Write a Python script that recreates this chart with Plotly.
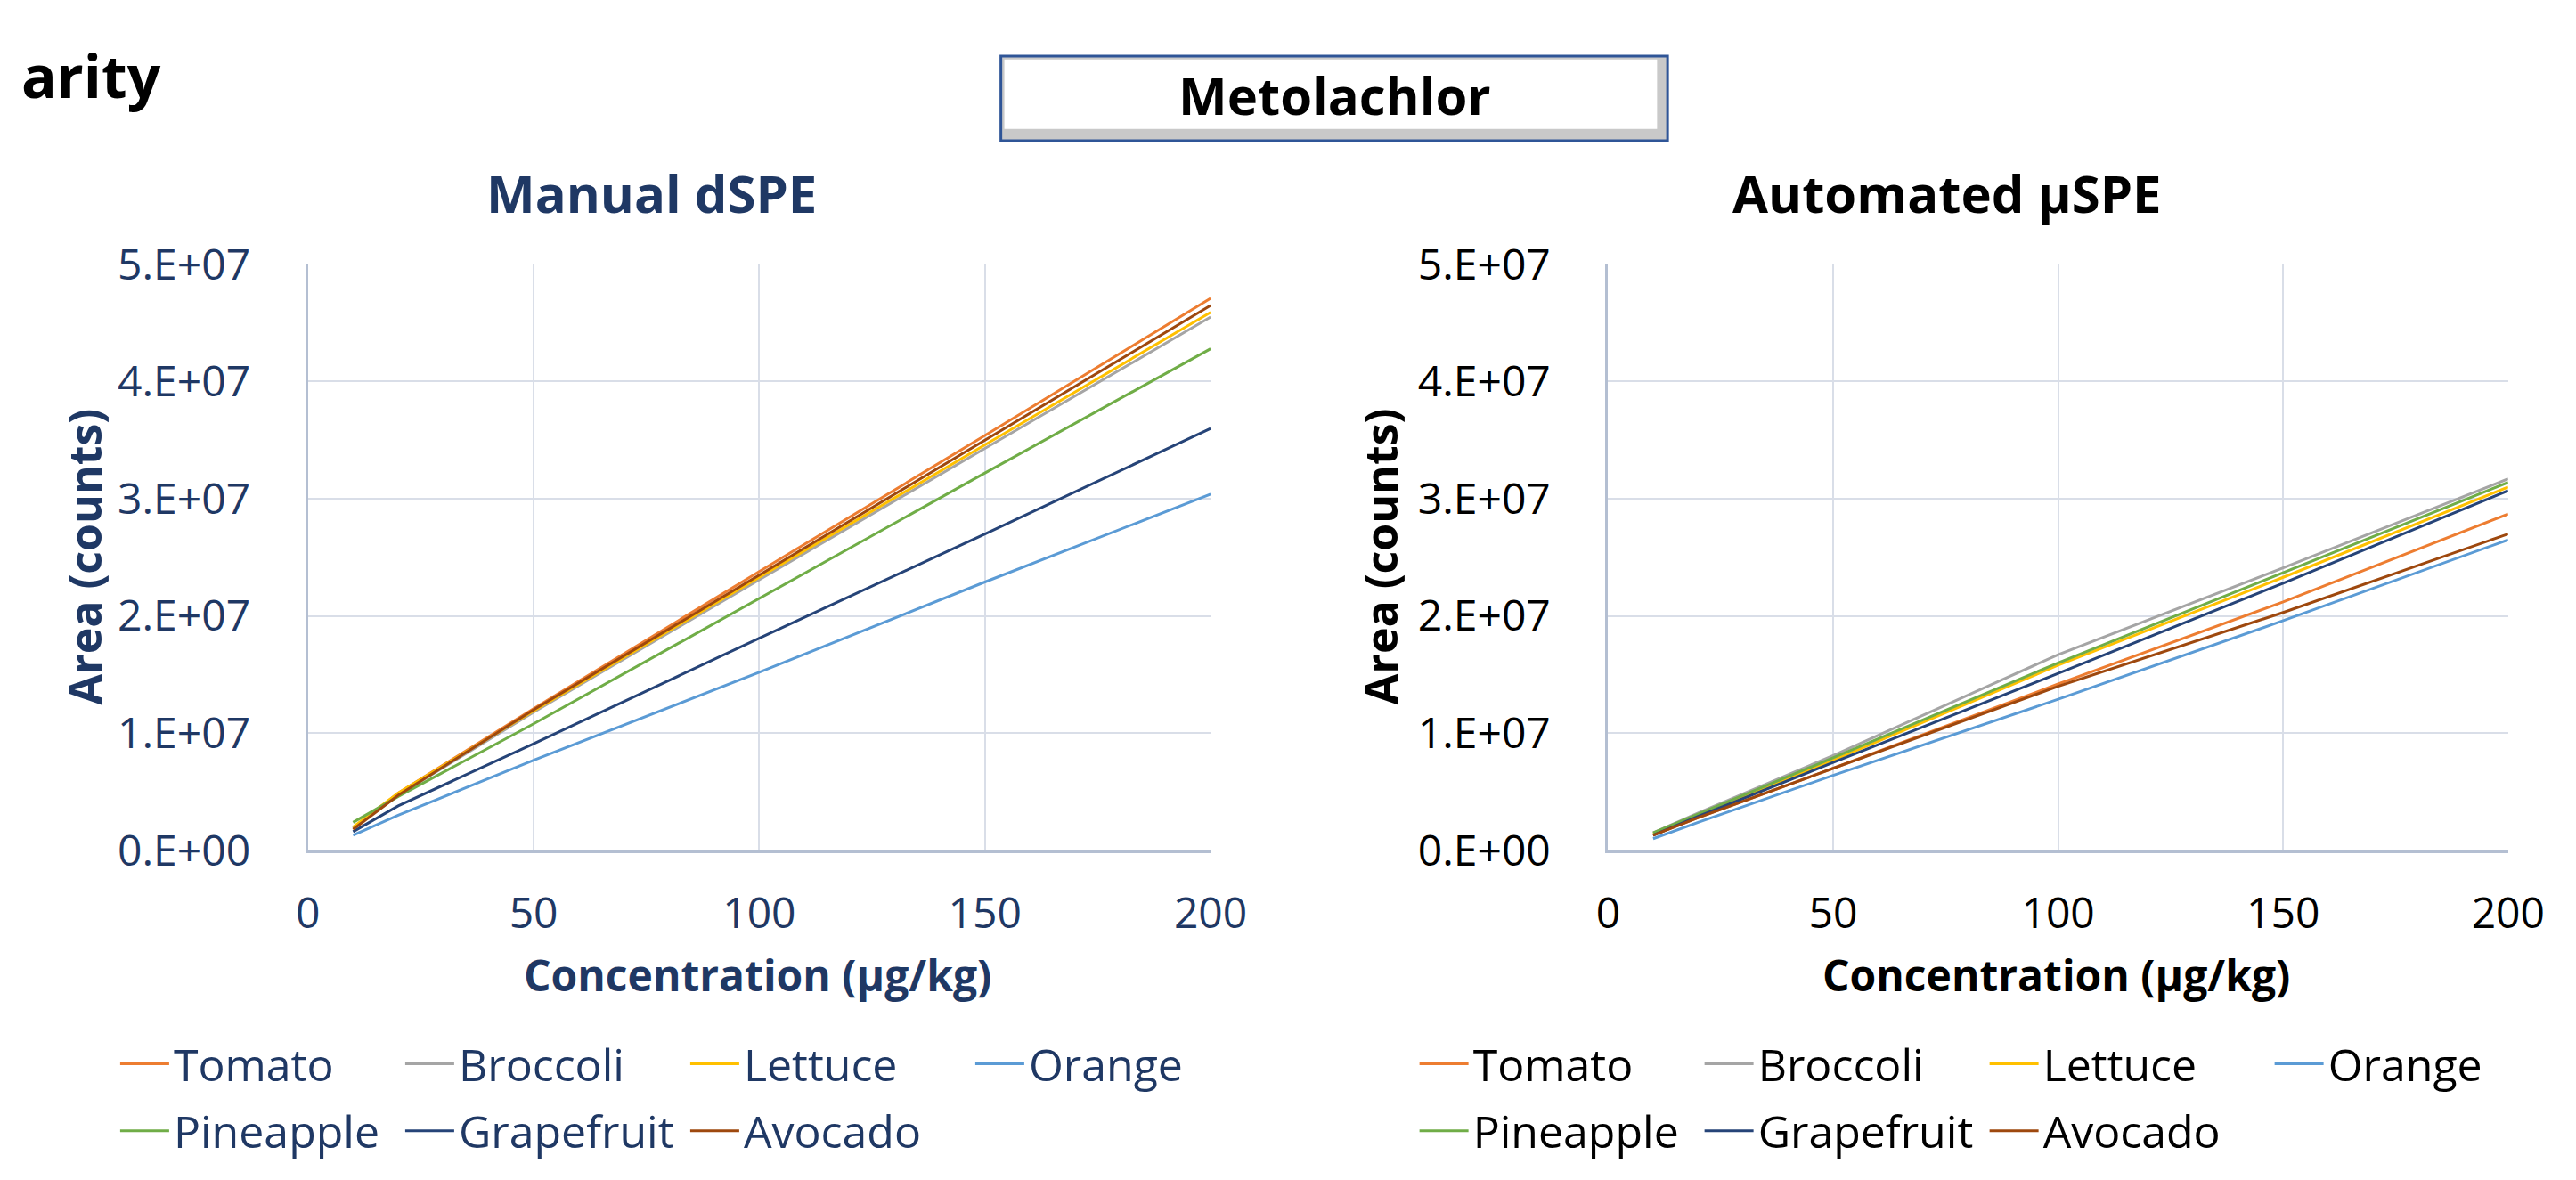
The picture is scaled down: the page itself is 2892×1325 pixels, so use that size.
import plotly.graph_objects as go

# ---------------- data ----------------
conc = [10, 20, 50, 100, 150, 200]
series_names = ["Tomato", "Broccoli", "Lettuce", "Orange", "Pineapple", "Grapefruit", "Avocado"]
series_colors = ["#ED7D31", "#A5A5A5", "#FFC000", "#5B9BD5", "#70AD47", "#264478", "#9E480E"]

manual_tomato = [1.9e6, 4.9e6, 1.21e7, 2.38e7, 3.54e7, 4.71e7]
manual_broccoli = [1.9e6, 4.7e6, 1.18e7, 2.31e7, 3.43e7, 4.55e7]
manual_lettuce = [2.0e6, 4.9e6, 1.19e7, 2.33e7, 3.46e7, 4.59e7]
manual_orange = [1.3e6, 3.0e6, 7.7e6, 1.52e7, 2.29e7, 3.04e7]
manual_pineapple = [2.4e6, 4.6e6, 1.08e7, 2.15e7, 3.22e7, 4.28e7]
manual_grapefruit = [1.6e6, 3.8e6, 9.1e6, 1.81e7, 2.70e7, 3.60e7]
manual_avocado = [1.8e6, 4.7e6, 1.20e7, 2.35e7, 3.50e7, 4.65e7]

auto_tomato = [1.3e6, 2.8e6, 7.0e6, 1.42e7, 2.12e7, 2.87e7]
auto_broccoli = [1.5e6, 3.2e6, 8.1e6, 1.67e7, 2.41e7, 3.17e7]
auto_lettuce = [1.4e6, 3.0e6, 7.7e6, 1.58e7, 2.33e7, 3.10e7]
auto_orange = [1.0e6, 2.4e6, 6.4e6, 1.29e7, 1.96e7, 2.65e7]
auto_pineapple = [1.5e6, 3.1e6, 7.9e6, 1.60e7, 2.37e7, 3.14e7]
auto_grapefruit = [1.3e6, 2.9e6, 7.5e6, 1.51e7, 2.28e7, 3.07e7]
auto_avocado = [1.3e6, 2.8e6, 7.0e6, 1.40e7, 2.03e7, 2.70e7]

x_ticks = [0, 50, 100, 150, 200]
y_ticks = [0, 1e7, 2e7, 3e7, 4e7, 5e7]
y_ticktext = ["0.E+00", "1.E+07", "2.E+07", "3.E+07", "4.E+07", "5.E+07"]

main_title = "Metolachlor"
clipped_title = "arity"
left_title = "Manual dSPE"
right_title = "Automated µSPE"
x_title = "Concentration (µg/kg)"
y_title = "Area (counts)"

manual = [manual_tomato, manual_broccoli, manual_lettuce, manual_orange,
          manual_pineapple, manual_grapefruit, manual_avocado]
auto = [auto_tomato, auto_broccoli, auto_lettuce, auto_orange,
        auto_pineapple, auto_grapefruit, auto_avocado]

# ---------------- figure ----------------
W, H = 2892, 1325
NAVY = "#1F3864"
BLACK = "#000000"
FONT = "Open Sans"

fig = go.Figure()

for i, name in enumerate(series_names):
    leg = "legend" if i < 4 else "legend2"
    fig.add_trace(go.Scatter(x=conc, y=manual[i], mode="lines", name=name,
                             line=dict(color=series_colors[i], width=3),
                             xaxis="x", yaxis="y", legend=leg))
for i, name in enumerate(series_names):
    leg = "legend3" if i < 4 else "legend4"
    fig.add_trace(go.Scatter(x=conc, y=auto[i], mode="lines", name=name,
                             line=dict(color=series_colors[i], width=3),
                             xaxis="x2", yaxis="y2", legend=leg))

def px_x(p):
    return p / W

def px_y(p):
    return 1 - p / H

plot_top, plot_bot = 268, 960
ydom = [px_y(plot_bot), px_y(plot_top)]

def xaxis_style(dom, color, anchor):
    return dict(domain=dom, range=[0, 200], tickvals=x_ticks, anchor=anchor,
                showgrid=True, gridcolor="#D9DEE8", gridwidth=2,
                showline=True, linecolor="#B4BFD2", linewidth=3,
                zeroline=False, ticks="", ticklabelstandoff=26,
                tickfont=dict(family=FONT, size=48, color=color), fixedrange=True)

def yaxis_style(color, anchor):
    return dict(domain=ydom, range=[0, 5e7], tickvals=y_ticks, ticktext=y_ticktext,
                anchor=anchor, showgrid=True, gridcolor="#D9DEE8", gridwidth=2,
                showline=True, linecolor="#B4BFD2", linewidth=3,
                zeroline=False, ticks="", ticklabelstandoff=52,
                tickfont=dict(family=FONT, size=48, color=color), fixedrange=True)

def legend_style(xp, yp, color):
    return dict(orientation="h", x=px_x(xp), y=px_y(yp), xanchor="left", yanchor="middle",
                font=dict(family=FONT, size=50, color=color), bgcolor="rgba(0,0,0,0)",
                entrywidth=250, entrywidthmode="pixels", itemwidth=55,
                tracegroupgap=0, borderwidth=0)

fig.update_layout(
    width=W, height=H,
    margin=dict(l=0, r=0, t=0, b=0),
    paper_bgcolor="white", plot_bgcolor="white",
    showlegend=True,
    xaxis=xaxis_style([px_x(330), px_x(1363)], NAVY, "y"),
    yaxis=yaxis_style(NAVY, "x"),
    xaxis2=xaxis_style([px_x(1818), px_x(2848)], BLACK, "y2"),
    yaxis2=yaxis_style(BLACK, "x2"),
    legend=legend_style(110, 1212, NAVY),
    legend2=legend_style(110, 1291, NAVY),
    legend3=legend_style(1597, 1212, BLACK),
    legend4=legend_style(1597, 1291, BLACK),
)

# title box with bevel look
fig.add_shape(type="rect", xref="paper", yref="paper",
              x0=px_x(1123), x1=px_x(1886), y0=px_y(122), y1=px_y(22),
              fillcolor="#C9C9C9", line=dict(color="#2F5597", width=3), layer="below")
fig.add_shape(type="rect", xref="paper", yref="paper",
              x0=px_x(1127), x1=px_x(1874), y0=px_y(108), y1=px_y(26),
              fillcolor="white", line=dict(width=0), layer="below")

annots = [
    dict(text="<b>%s</b>" % main_title, x=px_x(1505), y=px_y(68), size=58, color=BLACK),
    dict(text="<b>%s</b>" % clipped_title, x=px_x(0), y=px_y(44), size=66, color=BLACK, xanchor="left"),
    dict(text="<b>%s</b>" % left_title, x=px_x(723), y=px_y(184), size=58, color=NAVY),
    dict(text="<b>%s</b>" % right_title, x=px_x(2206), y=px_y(184), size=58, color=BLACK),
    dict(text="<b>%s</b>" % x_title, x=px_x(845), y=px_y(1107), size=48, color=NAVY),
    dict(text="<b>%s</b>" % x_title, x=px_x(2331), y=px_y(1107), size=48, color=BLACK),
    dict(text="<b>%s</b>" % y_title, x=px_x(74), y=px_y(613), size=50, color=NAVY, angle=-90),
    dict(text="<b>%s</b>" % y_title, x=px_x(1558), y=px_y(613), size=50, color=BLACK, angle=-90),
]
for a in annots:
    fig.add_annotation(text=a["text"], x=a["x"], y=a["y"], xref="paper", yref="paper",
                       showarrow=False, xanchor=a.get("xanchor", "center"), yanchor="middle",
                       textangle=a.get("angle", 0),
                       font=dict(family=FONT, size=a["size"], color=a["color"]))

fig.write_html("out.html")
